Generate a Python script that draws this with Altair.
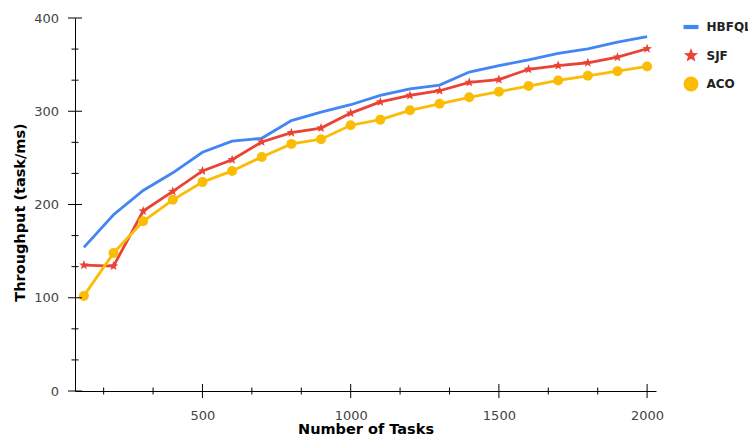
import math
import altair as alt
import pandas as pd

tasks = [100, 200, 300, 400, 500, 600, 700, 800, 900, 1000,
         1100, 1200, 1300, 1400, 1500, 1600, 1700, 1800, 1900, 2000]
hbfql = [154, 189, 215, 234, 256, 268, 271, 290, 299, 307,
         317, 324, 328, 342, 349, 355, 362, 367, 374, 380]
sjf = [135, 134, 193, 214, 236, 248, 267, 277, 282, 298,
       310, 317, 322, 331, 334, 345, 349, 352, 358, 367]
aco = [102, 148, 182, 205, 224, 236, 251, 265, 270, 285,
       291, 301, 308, 315, 321, 327, 333, 338, 343, 348]

series_names = ["HBFQL", "SJF", "ACO"]
series_colors = ["#4285F4", "#EA4335", "#FBBC05"]

x_major = [500, 1000, 1500, 2000]
x_minor = [166.667, 333.333, 666.667, 833.333, 1166.667, 1333.333, 1666.667, 1833.333]
y_major = [0, 100, 200, 300, 400]
y_minor = [33.333, 66.667, 133.333, 166.667, 233.333, 266.667, 333.333, 366.667]

rows = []
for name, vals in zip(series_names, [hbfql, sjf, aco]):
    for t, v in zip(tasks, vals):
        rows.append({"tasks": t, "throughput": v, "series": name})
df = pd.DataFrame(rows)

# marker shapes
pts = []
for k in range(10):
    r = 1.0 if k % 2 == 0 else 0.42
    a = math.radians(-90 + 36 * k)
    pts.append(f"{r * math.cos(a):.3f},{r * math.sin(a):.3f}")
star_path = "M" + "L".join(pts) + "Z"
bar_path = "M-1,-0.28L1,-0.28L1,0.28L-1,0.28Z"

x_scale = alt.Scale(domain=[70, 2030], nice=False, zero=False)
y_scale = alt.Scale(domain=[0, 400], nice=False, zero=False)

x_axis = alt.Axis(
    values=x_major, format="d", ticks=False, grid=False,
    title="Number of Tasks", labelPadding=18,
    titleY=31.5, titleBaseline="top", orient="bottom",
)
y_axis = alt.Axis(
    values=y_major, format="d", ticks=False, grid=False,
    title="Throughput (task/ms)", labelPadding=16.5,
    titleX=-48, titleY=194, titleAngle=270, titleBaseline="bottom", orient="left",
)

x_enc = alt.X("tasks:Q", scale=x_scale, axis=x_axis)
y_enc = alt.Y("throughput:Q", scale=y_scale, axis=y_axis)

color_scale = alt.Scale(domain=series_names, range=series_colors)
shape_scale = alt.Scale(domain=series_names, range=[bar_path, star_path, "circle"])
legend = alt.Legend(title=None, orient="none", legendX=608.5, legendY=1.5,
                    symbolSize=225, symbolStrokeWidth=0, rowPadding=14.5,
                    labelOffset=8, padding=0)

lines = alt.Chart(df).mark_line(strokeWidth=2.8).encode(
    x=x_enc, y=y_enc,
    color=alt.Color("series:N", scale=color_scale, legend=legend),
)
points = alt.Chart(df).transform_filter("datum.series !== 'HBFQL'").mark_point(
    filled=True, size=100, opacity=1, strokeWidth=0
).encode(
    x=x_enc, y=y_enc,
    color=alt.Color("series:N", scale=color_scale, legend=legend),
    shape=alt.Shape("series:N", scale=shape_scale, legend=legend),
)

def x_ticks(values, length):
    return alt.Chart(pd.DataFrame({"tasks": values})).mark_tick(
        orient="vertical", size=length, thickness=1, color="#000", opacity=1
    ).encode(
        x=alt.X("tasks:Q", scale=x_scale, axis=x_axis),
        y=alt.YDatum(0, scale=y_scale),
    )

def y_ticks(values, length):
    return alt.Chart(pd.DataFrame({"throughput": values})).mark_tick(
        orient="horizontal", size=length, thickness=1, color="#000", opacity=1
    ).encode(
        y=alt.Y("throughput:Q", scale=y_scale, axis=y_axis),
        x=alt.XDatum(70, scale=x_scale),
    )

chart = alt.layer(
    lines, points,
    x_ticks(x_major, 14), x_ticks(x_minor, 7),
    y_ticks(y_major, 14), y_ticks(y_minor, 7),
).properties(
    width=581, height=373,
    padding={"left": 67, "top": 10, "right": 92, "bottom": 45},
    autosize=alt.AutoSizeParams(type="none"),
).configure_view(stroke=None).configure_axis(
    domainColor="#000", domainWidth=1,
    labelFont="DejaVu Sans", labelFontSize=13, labelColor="#444",
    titleFont="DejaVu Sans", titleFontSize=14.5, titleFontWeight="bold", titleColor="#000",
).configure_legend(
    labelFont="DejaVu Sans", labelFontSize=12, labelFontWeight="bold", labelColor="#222",
)

chart.save("out.html", embed_options={"renderer": "svg", "actions": False})
